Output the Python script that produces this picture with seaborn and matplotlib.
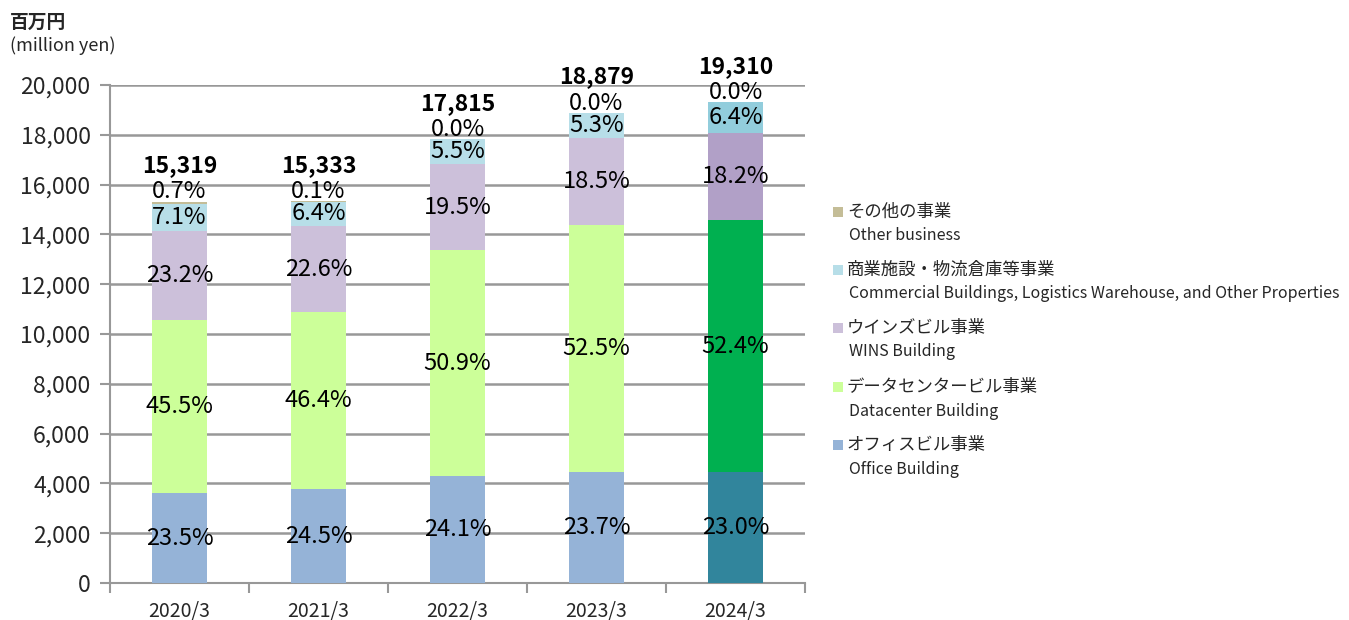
import matplotlib
matplotlib.use("Agg")
import matplotlib.pyplot as plt
from matplotlib.patches import Rectangle
from matplotlib.ticker import FuncFormatter, FixedLocator
import numpy as np
import seaborn as sns

# values
years = ["2020/3", "2021/3", "2022/3", "2023/3", "2024/3"]
totals = [15319, 15333, 17815, 18879, 19310]
office_pct = [23.5, 24.5, 24.1, 23.7, 23.0]
datacenter_pct = [45.5, 46.4, 50.9, 52.5, 52.4]
wins_pct = [23.2, 22.6, 19.5, 18.5, 18.2]
commercial_pct = [7.1, 6.4, 5.5, 5.3, 6.4]
other_pct = [0.7, 0.1, 0.0, 0.0, 0.0]

segments = ["office", "datacenter", "wins", "commercial", "other"]
seg_pct = [office_pct, datacenter_pct, wins_pct, commercial_pct, other_pct]
seg_jp = ["オフィスビル事業", "データセンタービル事業", "ウインズビル事業",
          "商業施設・物流倉庫等事業", "その他の事業"]
seg_en = ["Office Building", "Datacenter Building", "WINS Building",
          "Commercial Buildings, Logistics Warehouse, and Other Properties",
          "Other business"]

base_colors = ["#95B3D7", "#CCFF99", "#CCC0DA", "#B7DEE8", "#C4BD97"]
last_colors = ["#31859C", "#00B050", "#B1A0C7", "#92CDDC", "#C4BD97"]

sns.set_theme(style="white")
plt.rcParams["font.family"] = ["Noto Sans CJK JP", "DejaVu Sans"]

fig = plt.figure(figsize=(13.49, 6.2), dpi=100)
ax = fig.add_axes([110 / 1349, 37 / 620, 695 / 1349, 498 / 620])

totals_arr = np.array(totals, dtype=float)
bottom = np.zeros(len(years))
for k, pct in enumerate(seg_pct):
    heights = totals_arr * np.array(pct) / 100.0
    n_before = len(ax.patches)
    sns.barplot(x=years, y=heights, bottom=bottom, width=0.4, linewidth=0,
                color=base_colors[k], ax=ax, zorder=3)
    new = ax.patches[n_before:]
    for i, p in enumerate(new):
        p.set_facecolor(last_colors[k] if i == len(years) - 1 else base_colors[k])
        p.set_edgecolor("none")
    for i in range(len(years)):
        label = f"{pct[i]:.1f}%"
        if segments[k] == "other":
            ax.annotate(label, (i, totals[i]), xytext=(0, 7),
                        textcoords="offset points", ha="center", va="center",
                        fontsize=17, color="black", zorder=5)
        else:
            ax.text(i, bottom[i] + heights[i] / 2, label, ha="center",
                    va="center", fontsize=17, color="black", zorder=5)
    bottom = bottom + heights

for i, t in enumerate(totals):
    ax.annotate(f"{t:,}", (i, t), xytext=(0, 26), textcoords="offset points",
                ha="center", va="center", fontsize=16.5, fontweight="bold",
                color="black", zorder=5)

ax.set_xlim(-0.5, len(years) - 0.5)
ax.set_ylim(0, 20000)
ax.yaxis.set_major_locator(FixedLocator(np.arange(0, 20001, 2000)))
ax.yaxis.set_major_formatter(FuncFormatter(lambda v, _: f"{int(v):,}"))
ax.set_xticks(range(len(years)))
ax.set_xticklabels(years)
ax.set_xticks(np.arange(-0.5, len(years), 1.0), minor=True)
ax.tick_params(axis="x", which="major", length=0, pad=13, labelsize=14)
ax.tick_params(axis="x", which="minor", length=7, width=1.5, color="#989898",
               direction="out", bottom=True)
ax.tick_params(axis="y", which="major", length=7, width=1.5, color="#989898",
               direction="out", left=True, pad=7, labelsize=16.5)
ax.grid(axis="y", color="#989898", linewidth=1.8, zorder=0)
ax.grid(axis="x", visible=False)
ax.set_axisbelow(True)
for side in ["top", "right"]:
    ax.spines[side].set_visible(False)
for side in ["left", "bottom"]:
    ax.spines[side].set_color("#989898")
    ax.spines[side].set_linewidth(1.5)
ax.set_xlabel("")
ax.set_ylabel("")

fig.text(10 / 1349, 1 - 22 / 620, "百万円", fontsize=13.5, fontweight="bold",
         ha="left", va="center")
fig.text(10 / 1349, 1 - 46 / 620, "(million yen)", fontsize=13,
         ha="left", va="center")

# legend, top entry is "other"
row_y = [212, 270, 328, 387, 445]
for r, k in enumerate(range(len(segments) - 1, -1, -1)):
    y = row_y[r]
    fig.patches.append(Rectangle((833 / 1349, 1 - (y + 5) / 620), 10 / 1349,
                                 10 / 620, transform=fig.transFigure,
                                 facecolor=base_colors[k], edgecolor="none"))
    fig.text(847 / 1349, 1 - y / 620, seg_jp[k], fontsize=12.5,
             ha="left", va="center")
    fig.text(849 / 1349, 1 - (y + 24) / 620, seg_en[k], fontsize=11.5,
             ha="left", va="center")

fig.savefig("out.png", dpi=100)
